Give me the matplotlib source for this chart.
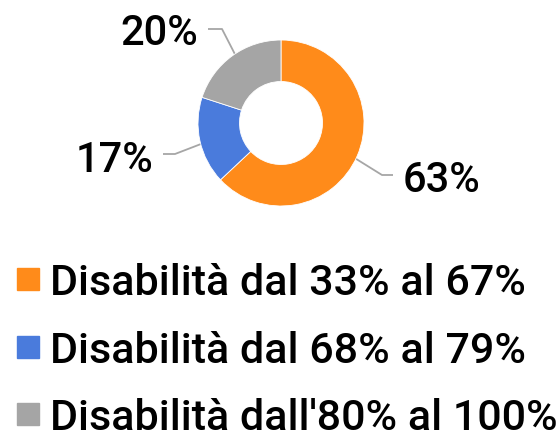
import matplotlib
matplotlib.use("Agg")
import matplotlib.pyplot as plt
from matplotlib.lines import Line2D
import numpy as np

categories = ["Disabilità dal 33% al 67%", "Disabilità dal 68% al 79%", "Disabilità dall'80% al 100%"]
values = [63, 17, 20]
labels = ["63%", "17%", "20%"]
colors = ["#FF8B1A", "#4A7BDC", "#A5A5A5"]

plt.rcParams['font.family'] = ['Roboto', 'DejaVu Sans']

W, H = 558, 435
fig = plt.figure(figsize=(W / 100, H / 100), dpi=100)
ax = fig.add_axes([0, 0, 1, 1])

cx, cy = 281, H - 124
R = 83
width = 41.5
wedges, _ = ax.pie(values, colors=colors, startangle=90, counterclock=False,
                   center=(cx, cy), radius=R,
                   wedgeprops=dict(width=width, edgecolor='white', linewidth=0.6))
ax.set_xlim(0, W)
ax.set_ylim(0, H)
ax.set_aspect('equal')
ax.axis('off')

# leader-line layout: (elbow, end, text x, text baseline y, ha)
layout = [
    ((382, H - 176), (393, H - 176), 403, H - 192, 'left'),
    ((175, H - 155), (163, H - 155), 153, H - 172, 'right'),
    ((222, H - 30), (208, H - 30), 198, H - 45, 'right'),
]
r_mid = R - width / 2
for w, lab, (elb, end, tx, ty, ha) in zip(wedges, labels, layout):
    th = np.deg2rad((w.theta1 + w.theta2) / 2)
    sx, sy = cx + r_mid * np.cos(th), cy + r_mid * np.sin(th)
    ax.plot([sx, elb[0], end[0]], [sy, elb[1], end[1]], color='#A6A6A6', lw=1.3,
            zorder=0.5, solid_capstyle='butt')
    ax.text(tx, ty, lab, ha=ha, va='baseline', fontsize=30, fontweight='medium', color='black')

handles = [Line2D([0], [0], marker='s', linestyle='none', markersize=16,
                  markerfacecolor=c, markeredgecolor=c) for c in colors]
leg = fig.legend(handles, categories, loc='upper left', bbox_to_anchor=(16 / W, (H - 263) / H),
                 frameon=False, prop=dict(size=31, weight='medium'), handlelength=0.55,
                 handletextpad=0.25, labelspacing=0.62, borderaxespad=0, borderpad=0)

fig.savefig("out.png", dpi=100)
